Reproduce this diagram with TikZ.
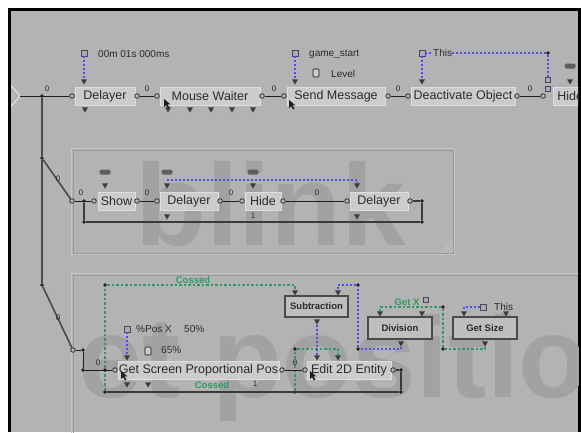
\documentclass[tikz,border=0pt]{standalone}
\usepackage{fontspec}
\setmainfont{Liberation Sans}
\usetikzlibrary{shapes.geometric}
\definecolor{bgc}{HTML}{B3B3B3}
\definecolor{wmc}{HTML}{A2A2A2}
\definecolor{bbfill}{HTML}{CCCCCC}
\definecolor{bbedge}{HTML}{DEDEDE}
\definecolor{opfill}{HTML}{BEBEBE}
\definecolor{opedge}{HTML}{4A4A4A}
\definecolor{txtc}{HTML}{2A2A2A}
\definecolor{lnkc}{HTML}{1E1E1E}
\definecolor{loopc}{HTML}{3A3A3A}
\definecolor{trunkc}{HTML}{4A4A4A}
\definecolor{tric}{HTML}{3A3A3A}
\definecolor{bluec}{HTML}{4E4EE6}
\definecolor{greenc}{HTML}{2F9A66}
\definecolor{grpc}{HTML}{9A9A9A}
\definecolor{grpl}{HTML}{C4C4C4}
\definecolor{sqedge}{HTML}{4A4A4A}
\definecolor{sqfill}{HTML}{A8A8C4}
\definecolor{iconc}{HTML}{5E5E5E}
\definecolor{arrc}{HTML}{E6E6E6}
\begin{document}
\begin{tikzpicture}[x=1pt,y=-1pt,
  bb/.style={rectangle, fill=bbfill, draw=bbedge, line width=0.8pt, minimum height=18pt, inner sep=0pt, font=\fontsize{12.5}{12.5}\selectfont, text=txtc},
  op/.style={rectangle, fill=opfill, draw=opedge, line width=1.5pt, minimum height=21pt, inner sep=0pt, font=\bfseries\fontsize{9.5}{9.5}\selectfont, text=txtc},
  port/.style={circle, draw=lnkc, fill=bgc, line width=0.7pt, minimum size=4.6pt, inner sep=0pt},
  jd/.style={circle, fill=lnkc, minimum size=3.6pt, inner sep=0pt},
  tri/.style={regular polygon, regular polygon sides=3, shape border rotate=180, fill=tric, minimum size=7pt, inner sep=0pt},
  lnk/.style={draw=lnkc, line width=0.9pt},
  loopl/.style={draw=loopc, line width=1.4pt},
  trunkl/.style={draw=trunkc, line width=1.6pt},
  plink/.style={draw=bluec, line width=1.1pt, dash pattern=on 2pt off 2pt},
  glink/.style={draw=greenc, line width=1.1pt, dash pattern=on 2.5pt off 2pt},
  lbl/.style={font=\fontsize{8}{8}\selectfont, text=txtc, inner sep=0pt},
  prm/.style={font=\fontsize{10}{10}\selectfont, text=txtc, anchor=west, inner sep=0pt},
  glbl/.style={font=\bfseries\fontsize{9.5}{9.5}\selectfont, text=greenc, inner sep=0pt},
  sqicon/.style={rectangle, draw=sqedge, fill=sqfill, line width=0.8pt, minimum size=6pt, inner sep=0pt},
  recticon/.style={rectangle, rounded corners=1.5pt, fill=iconc, minimum width=11pt, minimum height=5pt, inner sep=0pt},
  pinicon/.style={rectangle, rounded corners=1pt, draw=iconc, fill=bbfill, line width=1.2pt, minimum width=6pt, minimum height=8pt, inner sep=0pt},
  wm/.style={font=\bfseries\fontsize{116}{116}\selectfont, text=wmc, inner sep=0pt, anchor=base west},
  cursorf/.style={fill=lnkc}
]
\useasboundingbox (0,0) rectangle (581,432);
\fill[white] (0,0) rectangle (581,432);
\fill[black] (8,8) rectangle (581,432);
\fill[bgc] (11,11) rectangle (578,432);
\begin{scope}
\clip (11,11) rectangle (578,432);
% group frames
\draw[grpl, line width=1pt] (71.5,148.5) rectangle (454.5,254.5);
\draw[grpc, line width=1pt] (73,150) rectangle (453,253);
\draw[grpl, line width=0.8pt] (441,253) -- (453,241) (445,253) -- (453,245) (449,253) -- (453,249);
\draw[grpl, line width=1pt] (71.5,273.5) rectangle (600,450);
\draw[grpc, line width=1pt] (73,275) rectangle (600,450);
% watermarks
\node[wm] (wmblink) at (135,245) {blink};
\node[wm, font=\bfseries\fontsize{115}{115}\selectfont] (wmpos) at (78,397) {et positio};
% left entry arrow
\draw[arrc, line width=1pt] (10,84) -- (20,96) -- (10,108);
\coordinate (tipL) at (20,96);

% ---------- top row ----------
\node[bb, minimum width=60] (delA) at (105,96) {Delayer};
\node[bb, minimum width=100] (mouse) at (210,96) {Mouse Waiter};
\node[bb, minimum width=98] (send) at (336,96) {Send Message};
\node[bb, minimum width=104] (deact) at (463,96) {Deactivate Object};
\node[bb, anchor=west, inner xsep=4pt] (hideA) at (553,96) {Hide};

\node[jd] (j0) at (42,96) {};
\node[jd] (j1) at (42,158) {};
\node[jd] (j2) at (42,285) {};
\draw[trunkl] (j0) -- (j1) -- (j2);

\node[port] (delAin) at (72,96) {};
\node[port] (delAout) at (137,96) {};
\node[port] (mouseIn) at (157,96) {};
\node[port] (mouseOut) at (262,96) {};
\node[port] (sendIn) at (284,96) {};
\node[port] (sendOut) at (388,96) {};
\node[port] (deactIn) at (408,96) {};
\node[port] (deactOut) at (517,96) {};
\node[port] (hideAIn) at (543,96) {};
\draw[lnk] (tipL) -- (delAin);
\draw[lnk] (delAout) -- (mouseIn);
\draw[lnk] (mouseOut) -- (sendIn);
\draw[lnk] (sendOut) -- (deactIn);
\draw[lnk] (deactOut) -- (hideAIn);
\node[lbl] (l0) at (47,89) {0};
\node[lbl] (l1) at (147,89) {0};
\node[lbl] (l2) at (274,89) {0};
\node[lbl] (l3) at (398,89) {0};
\node[lbl] (l4) at (530,89) {0};

% top-row parameters
\node[sqicon] (sqA) at (84,53) {};
\node[tri] (tA) at (84,81) {};
\draw[plink] (sqA.south) -- (tA.north);
\node[prm] (pA) at (98,54) {00m 01s 000ms};
\node[tri] (tAb) at (85,109) {};
\node[tri] (tM1) at (168,109) {};
\node[tri] (tM2) at (190,109) {};
\node[tri] (tM3) at (211,109) {};
\node[tri] (tM4) at (232,109) {};
\node[tri] (tM5) at (253,109) {};

\node[sqicon] (sqS) at (295,53) {};
\node[tri] (tS) at (295,81) {};
\draw[plink] (sqS.south) -- (tS.north);
\node[prm] (pS) at (309,54) {game\_start};
\node[pinicon] (pinS) at (316,73) {};
\node[prm] (pL) at (331,74) {Level};

\node[sqicon] (sqD) at (422,53) {};
\node[tri] (tD) at (422,81) {};
\draw[plink] (sqD.south) -- (tD.north);
\node[prm] (pD) at (433,53) {This};
\node[jd] (jD) at (548,53) {};
\node[sqicon, minimum size=5pt] (sqH1) at (548,80) {};
\node[sqicon, minimum size=5pt] (sqH2) at (548,89) {};
\draw[plink] (sqD.east) -- (pD.west);
\draw[plink] (pD.east) -- (jD) -- (sqH1.north);
\node[recticon] (riH) at (570,66) {};
\node[tri] (tH) at (570,81) {};

% cursors
\fill[cursorf] (164,99) -- ++(0,8) -- ++(2,-2) -- ++(2,3.5) -- ++(1.5,-0.8) -- ++(-2,-3.3) -- ++(3,0) -- cycle;
\fill[cursorf] (289,100) -- ++(0,8) -- ++(2,-2) -- ++(2,3.5) -- ++(1.5,-0.8) -- ++(-2,-3.3) -- ++(3,0) -- cycle;

% ---------- blink group ----------
\node[port] (bIn) at (72,201) {};
\draw[trunkl] (j1) -- (bIn);
\node[lbl] (lb0) at (58,179) {0};
\node[bb, minimum width=37] (show) at (116.5,201) {Show};
\node[bb, minimum width=58] (delB) at (189,201) {Delayer};
\node[bb, minimum width=36] (hideB) at (263,201) {Hide};
\node[bb, minimum width=58] (delC) at (379,201) {Delayer};
\node[port] (showIn) at (94,201) {};
\node[port] (showOut) at (137,201) {};
\node[port] (delBIn) at (157,201) {};
\node[port] (delBOut) at (220,201) {};
\node[port] (hideBIn) at (242,201) {};
\node[port] (hideBOut) at (283,201) {};
\node[port] (delCIn) at (347,201) {};
\node[port] (delCOut) at (410,201) {};
\node[jd] (jb1) at (84,201) {};
\node[jd] (jb2) at (84,222) {};
\node[jd] (jb3) at (422,222) {};
\node[jd] (jb4) at (422,201) {};
\draw[lnk] (bIn) -- (showIn);
\draw[lnk] (showOut) -- (delBIn);
\draw[lnk] (delBOut) -- (hideBIn);
\draw[lnk] (hideBOut) -- (delCIn);
\draw[loopl] (delCOut) -- (jb4) -- (jb3) -- (jb2) -- (jb1);
\node[lbl] (lb1) at (81,193) {0};
\node[lbl] (lb2) at (147,193) {0};
\node[lbl] (lb3) at (231,193) {0};
\node[lbl] (lb4) at (317,193) {0};
\node[lbl] (lb5) at (253,216) {1};
\node[recticon] (riS) at (105,172) {};
\node[recticon] (riB) at (167,172) {};
\node[recticon] (riHB) at (253,172) {};
\node[tri] (tSh) at (105,185) {};
\node[tri] (tDB) at (167,185) {};
\node[tri] (tHB) at (253,185) {};
\node[tri] (tDC) at (357,185) {};
\node[tri] (tDBb) at (167,216) {};
\node[tri] (tDCb) at (357,216) {};
\coordinate (bl1) at (167,180);
\draw[plink] (bl1) -| (tDC.north);

% ---------- set position group ----------
\node[port] (sIn) at (73,350) {};
\draw[trunkl] (j2) -- (sIn);
\node[lbl] (ls0) at (58,318) {0};
\node[jd] (js1) at (83,350) {};
\node[jd] (js2) at (83,370) {};
\node[bb, minimum width=161] (getsp) at (198.5,370) {Get Screen Proportional Pos};
\node[bb, minimum width=84] (edit) at (349,370) {Edit 2D Entity};
\node[port] (gIn) at (115,370) {};
\node[port] (gOut) at (282,370) {};
\node[port] (eIn) at (305,370) {};
\node[port] (eOut) at (393,370) {};
\node[jd] (je1) at (401,370) {};
\node[jd] (je2) at (401,392) {};
\node[jd] (je3) at (295,392) {};
\node[jd] (je4) at (105,392) {};

\node[op, minimum width=63] (sub) at (316.5,306.5) {Subtraction};
\node[op, minimum width=64, minimum height=22] (div) at (400,328) {Division};
\node[op, minimum width=64, minimum height=22] (gsz) at (485,328) {Get Size};
\node[tri] (tSub1) at (295,292) {};
\node[tri] (tSub2) at (338,292) {};
\node[tri] (tSubO) at (317,321) {};
\node[tri] (tDiv1) at (380,313) {};
\node[tri] (tDiv2) at (422,313) {};
\node[tri] (tDivO) at (401,343) {};
\node[tri] (tGsz1) at (464,313) {};
\node[tri] (tGsz2) at (506,313) {};
\node[tri] (tGszO) at (485,343) {};
\node[tri] (tGs1) at (127,357) {};
\node[tri] (tGsO1) at (127,384) {};
\node[tri] (tGsO2) at (148,384) {};
\node[tri] (tEd1) at (317,357) {};
\node[tri] (tEd2) at (338,357) {};

% green links
\node[jd] (jg1) at (105,285) {};
\node[jd] (jg2) at (295,349) {};
\draw[glink] (je4) -- (jg1) -| (tSub1.north);
\draw[glink] (je4) -- (je3) -- (jg2) -| (tEd2.north);
\node[glbl] (gl1) at (193,280) {Cossed};
\node[glbl] (gl2) at (212,385) {Cossed};
\node[jd] (jg3) at (443,307) {};
\node[jd] (jg4) at (443,349) {};
\draw[glink] (tGszO.south) |- (jg4) -- (jg3) -| (tDiv1.north);
\node[glbl] (gl3) at (407,302) {Get X};
\node[sqicon, minimum size=5pt] (sqX) at (426,300) {};

% blue links
\node[jd] (jb5) at (358,285) {};
\node[jd] (jb6) at (358,349) {};
\draw[plink] (tSubO.south) -- (tEd1.north);
\draw[plink] (tDivO.south) |- (jb6) -- (jb5) -| (tSub2.north);
\node[sqicon] (sqG) at (483,307) {};
\draw[plink] (sqG.west) -| (tGsz1.north);
\node[prm] (pG) at (494,307) {This};

% getsp parameters
\node[sqicon] (sqP) at (127,329) {};
\draw[plink] (sqP.south) -- (tGs1.north);
\node[prm] (pP) at (136,329) {\%Pos X};
\node[prm] (pP2) at (184,329) {50\%};
\node[pinicon] (pinP) at (148,351) {};
\node[prm] (pP3) at (161,350) {65\%};

% flow links
\draw[lnk] (sIn) -- (js1) -- (js2) -- (gIn);
\node[jd] (js3) at (105,370) {};
\draw[lnk] (gOut) -- (eIn);
\draw[loopl] (eOut) -- (je1) -- (je2) -- (je4);
\node[lbl] (ls1) at (98,363) {0};
\node[lbl] (ls2) at (295,363) {0};
\node[lbl] (ls3) at (255,384) {1};

\fill[cursorf] (121,371) -- ++(0,8) -- ++(2,-2) -- ++(2,3.5) -- ++(1.5,-0.8) -- ++(-2,-3.3) -- ++(3,0) -- cycle;
\fill[cursorf] (310,371) -- ++(0,8) -- ++(2,-2) -- ++(2,3.5) -- ++(1.5,-0.8) -- ++(-2,-3.3) -- ++(3,0) -- cycle;
\end{scope}
\end{tikzpicture}
\end{document}
